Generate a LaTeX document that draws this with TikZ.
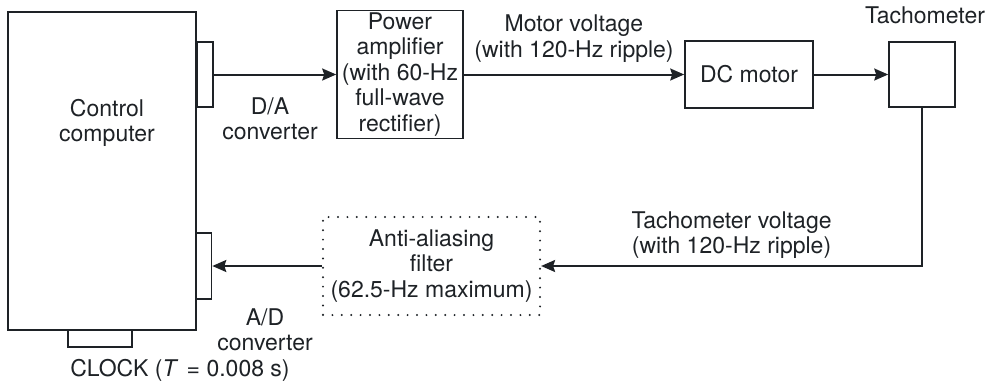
\documentclass[tikz,border=0pt]{standalone}
\usepackage{fontspec}
\setmainfont{TeX Gyre Heros}
\usetikzlibrary{arrows.meta,positioning,calc}
\definecolor{scanink}{HTML}{1E2226}
\newcommand{\blockfont}{\fontsize{23}{25.5}\selectfont}
\tikzset{
  blockBox/.style={draw=scanink, line width=1.6pt, align=center, inner sep=2pt, font=\blockfont, text=scanink},
  tabBox/.style={draw=scanink, line width=1.6pt, inner sep=0pt},
  dotBox/.style={draw=scanink, line width=2.2pt, dash pattern=on 0pt off 9.4pt, line cap=round, align=center, inner sep=2pt, font=\blockfont, text=scanink},
  sigArrow/.style={-{Stealth[length=14pt, width=12pt, inset=2pt]}, line width=2pt, draw=scanink},
  sigLabel/.style={font=\blockfont, align=center, text=scanink}
}

\begin{document}
\begin{tikzpicture}[x=1pt, y=-1pt]
  \useasboundingbox (0,0) rectangle (1006,389);
  \node[blockBox, minimum width=188pt, minimum height=318pt] (computer) at (102,171) {};
  \node[sigLabel] (computerText) at (107,123) {Control\\ computer};
  \node[tabBox, minimum width=16pt, minimum height=65pt] (daTab) at (205,74.5) {};
  \node[tabBox, minimum width=15pt, minimum height=66pt] (adTab) at (204,266) {};
  \node[tabBox, minimum width=64pt, minimum height=17pt] (clockTab) at (100,338.5) {};
  \node[sigLabel] (daText) at (270,119) {D/A\\ converter};
  \node[sigLabel] (adText) at (265,330) {A/D\\ converter};
  \node[sigLabel] (clockText) at (180,370) {CLOCK ({\itshape T}\, = 0.008 s)};

  \node[blockBox, minimum width=126pt, minimum height=126pt] (amp) at (400,74.5) {Power\\ amplifier\\ (with 60-Hz\\ full-wave\\ rectifier)};
  \node[blockBox, minimum width=128pt, minimum height=67pt] (motor) at (749,74.5) {DC motor};
  \node[blockBox, minimum width=66pt, minimum height=65pt] (tach) at (922,74.5) {};
  \node[sigLabel] (tachText) at (925,15) {Tachometer};
  \node[dotBox, minimum width=217pt, minimum height=98pt] (filter) at (431.5,266) {Anti-aliasing\\ filter\\ (62.5-Hz maximum)};

  \draw[sigArrow] (daTab) -- (amp);
  \draw[sigArrow] (amp) -- node[sigLabel, above=8pt] {Motor voltage\\ (with 120-Hz ripple)} (motor);
  \draw[sigArrow] (motor) -- (tach);
  \draw[sigArrow] (tach.south) |- node[sigLabel, above=3pt, pos=0.75] {Tachometer voltage\\ (with 120-Hz ripple)} (filter.east);
  \draw[sigArrow] (filter) -- (adTab);
\end{tikzpicture}
\end{document}
